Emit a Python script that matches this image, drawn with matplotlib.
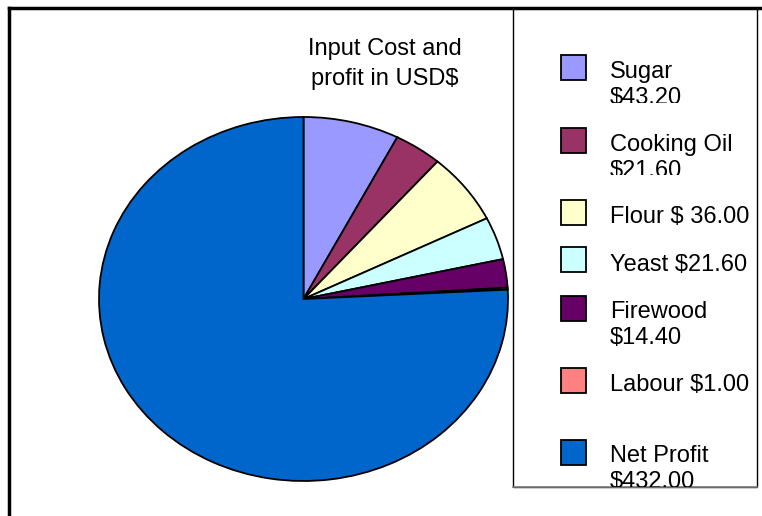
import matplotlib
matplotlib.use("Agg")
import matplotlib.pyplot as plt
import matplotlib.transforms as mtransforms
from matplotlib.patches import Rectangle
from matplotlib.lines import Line2D

plt.rcParams['font.family'] = ['Liberation Sans', 'DejaVu Sans']

# Dane wykresu
labels = ["Sugar\n$43.20", "Cooking Oil\n$21.60", "Flour $ 36.00", "Yeast $21.60",
          "Firewood\n$14.40", "Labour $1.00", "Net Profit\n$432.00"]
values = [43.20, 21.60, 36.00, 21.60, 14.40, 1.00, 432.00]
colors = ["#9999FF", "#993366", "#FFFFCC", "#CCFFFF", "#660066", "#FF8080", "#0066CC"]
title = "Input Cost and\nprofit in USD$"

W, H = 762, 516
fig = plt.figure(figsize=(W / 100, H / 100), dpi=100)
# piksele (od lewego górnego rogu) -> współrzędne ekranu
px = mtransforms.Affine2D().scale(1, -1).translate(0, H)

# Wykres kołowy (eliptyczny)
ax = fig.add_axes([99 / W, 1 - 481 / H, 409 / W, 364 / H])
ax.pie(values, colors=colors, startangle=90, counterclock=False,
       wedgeprops=dict(edgecolor="black", linewidth=1.3))
ax.set_aspect("auto")
ax.set_xlim(-1, 1)
ax.set_ylim(-1, 1)
ax.axis("off")


def draw_lines(text, x, baseline, step, ha="left", clip=None):
    # każda linia osobno, żeby trzymać odstęp jak w oryginale
    for i, line in enumerate(text.split("\n")):
        t = plt.Text(x, baseline + i * step, line, transform=px, ha=ha,
                     va="baseline", fontsize=17)
        if clip is not None:
            t.set_clip_box(mtransforms.TransformedBbox(
                mtransforms.Bbox.from_extents(*clip), px))
            t.set_clip_on(True)
        fig.add_artist(t)


# Tytuł
draw_lines(title, 385, 55, 30, ha="center")

# Ramka zewnętrzna
fig.add_artist(Line2D([9, W], [8, 8], transform=px, color="black", linewidth=2.5))
fig.add_artist(Line2D([9, 9], [8, H], transform=px, color="black", linewidth=2.5))

# Legenda
fig.add_artist(Rectangle((513, 8), 244, 479, transform=px, facecolor="white",
                         edgecolor="black", linewidth=1))
fig.add_artist(Line2D([513, 757], [487, 487], transform=px, color="#808080", linewidth=1.2))

box_tops = [55, 128, 200, 247, 296, 368, 440]
baselines = [78, 151, 223, 271, 318, 391, 462]
clip_bottoms = [103, 175, 250, 300, 360, 420, 487]
for lab, col, bt, bl, cb in zip(labels, colors, box_tops, baselines, clip_bottoms):
    fig.add_artist(Rectangle((561, bt), 25, 25, transform=px, facecolor=col,
                             edgecolor="black", linewidth=1.3))
    draw_lines(lab, 610, bl, 26, clip=(514, bt - 20, 756, cb))

fig.savefig("out.png", dpi=100)
